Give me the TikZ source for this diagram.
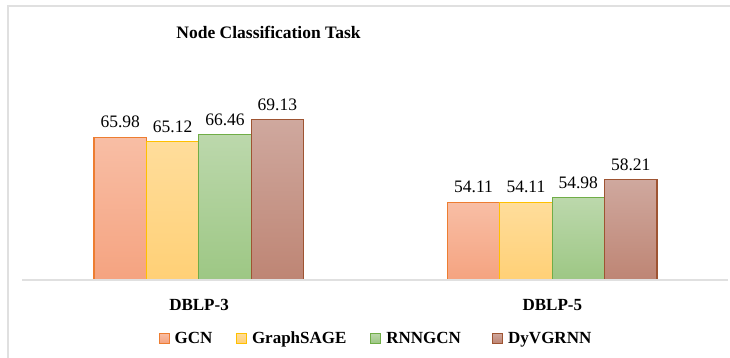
\documentclass[tikz,border=0pt]{standalone}
\usepackage{fontspec}
\setmainfont{Liberation Serif}
\usetikzlibrary{positioning}

\definecolor{gcnline}{RGB}{237,125,49}
\definecolor{gcntop}{RGB}{248,190,165}
\definecolor{gcnbot}{RGB}{245,163,128}
\definecolor{sageline}{RGB}{255,192,0}
\definecolor{sagetop}{RGB}{255,221,155}
\definecolor{sagebot}{RGB}{255,208,118}
\definecolor{rnnline}{RGB}{112,173,71}
\definecolor{rnntop}{RGB}{188,216,172}
\definecolor{rnnbot}{RGB}{157,199,132}
\definecolor{dyvline}{RGB}{158,84,50}
\definecolor{dyvtop}{RGB}{207,168,158}
\definecolor{dyvbot}{RGB}{190,133,116}
\definecolor{framegray}{RGB}{224,224,224}

\tikzset{
  bar/.style={draw=#1line, line width=1.2pt, top color=#1top, bottom color=#1bot},
  vallabel/.style={font=\fontsize{17.5}{20}\selectfont, inner sep=0pt, anchor=south},
  catlabel/.style={font=\bfseries\fontsize{17}{20}\selectfont, inner sep=0pt},
  legkey/.style={draw=#1line, line width=1pt, top color=#1top, bottom color=#1bot, minimum size=10pt, inner sep=0pt},
  legtext/.style={font=\bfseries\fontsize{17}{20}\selectfont, inner sep=0pt, text height=11.4pt, text depth=0pt},
}

\begin{document}
\begin{tikzpicture}[x=1pt,y=-1pt]
\useasboundingbox (0,0) rectangle (730,358);
\fill[white] (0,0) rectangle (730,358);
% outer frame
\draw[framegray, line width=2pt] (8,358) -- (8,6) -- (730,6);
\node[font=\bfseries\fontsize{17.5}{20}\selectfont] (title) at (268.5,32) {Node Classification Task};

% bars, scale 5.5 per unit from 40
\foreach \name/\va/\vb [count=\i from 0] in {gcn/65.98/54.11, sage/65.12/54.11, rnn/66.46/54.98, dyv/69.13/58.21} {
  \pgfmathsetmacro{\xa}{94+52.4*\i}
  \pgfmathsetmacro{\xb}{447.3+52.4*\i}
  \pgfmathsetmacro{\ya}{280-5.5*(\va-40)}
  \pgfmathsetmacro{\yb}{280-5.5*(\vb-40)}
  \path[bar=\name] (\xa,280) rectangle (\xa+52.4,\ya);
  \path[bar=\name] (\xb,280) rectangle (\xb+52.4,\yb);
  \node[vallabel] (val-a\i) at (\xa+26.2,\ya-9) {\va};
  \node[vallabel] (val-b\i) at (\xb+26.2,\yb-9) {\vb};
}
\draw[framegray, line width=1.5pt] (22,280) -- (728,280);

\node[catlabel] (cat-a) at (199,305) {DBLP-3};
\node[catlabel] (cat-b) at (552.3,305) {DBLP-5};

% legend
\foreach \name/\lbl/\x in {gcn/GCN/164, sage/GraphSAGE/241.3, rnn/RNNGCN/375.7, dyv/DyVGRNN/497.5} {
  \node[legkey=\name] (key-\name) at (\x,338) {};
  \node[legtext, right=5pt of key-\name] (leg-\name) {\lbl};
}
\end{tikzpicture}
\end{document}
